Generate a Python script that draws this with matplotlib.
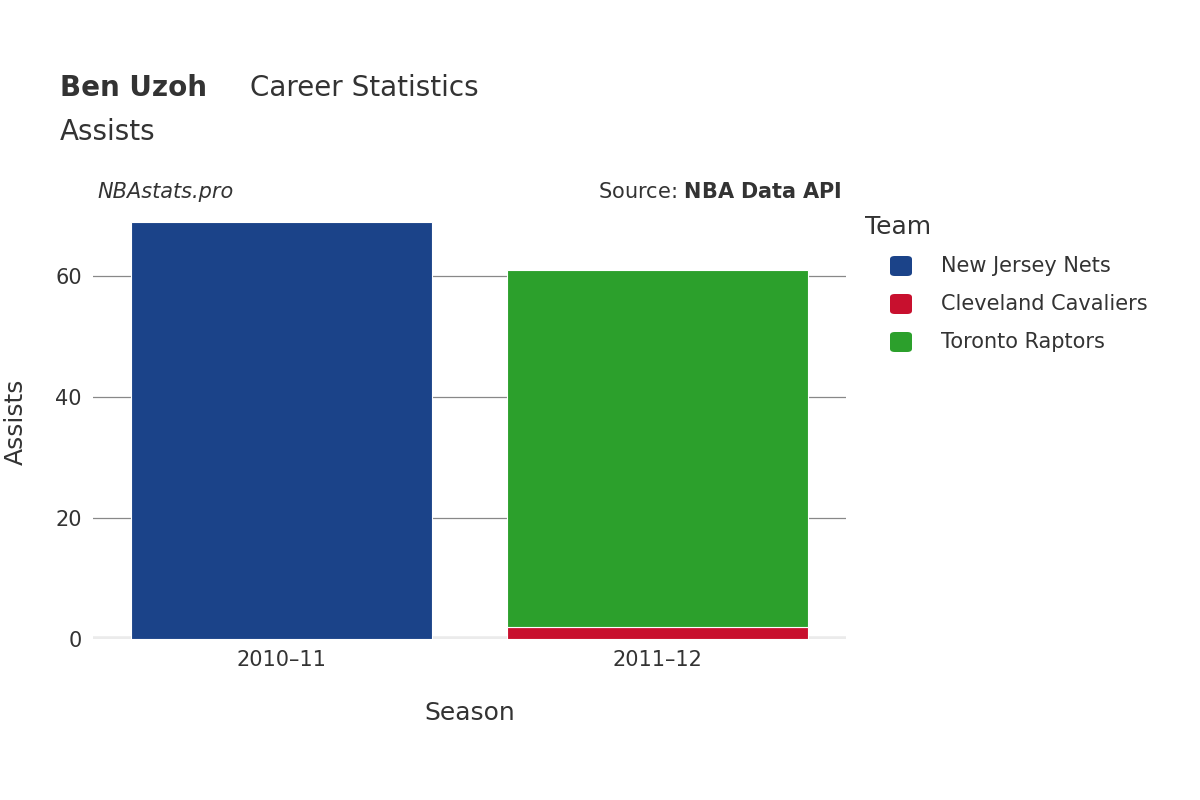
import matplotlib
matplotlib.use("Agg")
import matplotlib.pyplot as plt
from matplotlib.patches import FancyBboxPatch

seasons = ["2010\u201311", "2011\u201312"]
teams = ["New Jersey Nets", "Cleveland Cavaliers", "Toronto Raptors"]
colors = ["#1b4389", "#c8102e", "#2ca02c"]
values = {
    "New Jersey Nets": [69, 0],
    "Cleveland Cavaliers": [0, 2],
    "Toronto Raptors": [0, 59],
}
yticks = [0, 20, 40, 60]

fig = plt.figure(figsize=(12, 8), dpi=100)
ax = fig.add_axes([93/1200, 1-639/800, (846-93)/1200, (639-204)/800])
ax.set_xlim(-0.5, 1.5)
ax.set_ylim(0, (639-204)/6.05)

bottoms = [0, 0]
for t, c in zip(teams, colors):
    vals = values[t]
    for i, v in enumerate(vals):
        if v > 0:
            ax.bar(i, v, width=0.8, bottom=bottoms[i], color=c, edgecolor="white", linewidth=0.8, zorder=3)
            bottoms[i] += v

for y in yticks[1:]:
    ax.axhline(y, color="#888888", linewidth=0.9, zorder=1)
ax.axhline(0, color="#ebebeb", linewidth=4, zorder=2)

for s in ax.spines.values():
    s.set_visible(False)
ax.set_xticks(range(len(seasons)))
ax.set_xticklabels(seasons)
ax.set_yticks(yticks)
ax.tick_params(length=0, labelsize=15, colors="#333333", pad=8)
ax.set_xlabel("Season", fontsize=18, color="#333333", labelpad=22)
ax.set_ylabel("Assists", fontsize=18, color="#333333", labelpad=20)

fig.text(60/1200, 1-88/800, "Ben Uzoh", fontsize=20, fontweight="bold", color="#333333", va="center")
fig.text(250/1200, 1-88/800, "Career Statistics", fontsize=20, color="#333333", va="center")
fig.text(60/1200, 1-132/800, "Assists", fontsize=20, color="#333333", va="center")
fig.text(97/1200, 1-192/800, "NBAstats.pro", fontsize=15, style="italic", color="#333333", va="center")
fig.text(842/1200, 1-192/800, "Source: $\\bf{NBA\\ Data\\ API}$", fontsize=15, color="#333333", va="center", ha="right")

fig.text(865/1200, 1-227/800, "Team", fontsize=18, color="#333333", va="center")
for k, (t, c) in enumerate(zip(teams, colors)):
    yc = 1-(266+38*k)/800
    fig.patches.append(FancyBboxPatch((890/1200, yc-10/800), 22/1200, 20/800,
                                      boxstyle="round,pad=0,rounding_size=0.004",
                                      transform=fig.transFigure, facecolor=c, edgecolor="none"))
    fig.text(941/1200, yc, t, fontsize=15, color="#333333", va="center")

fig.savefig("out.png")
